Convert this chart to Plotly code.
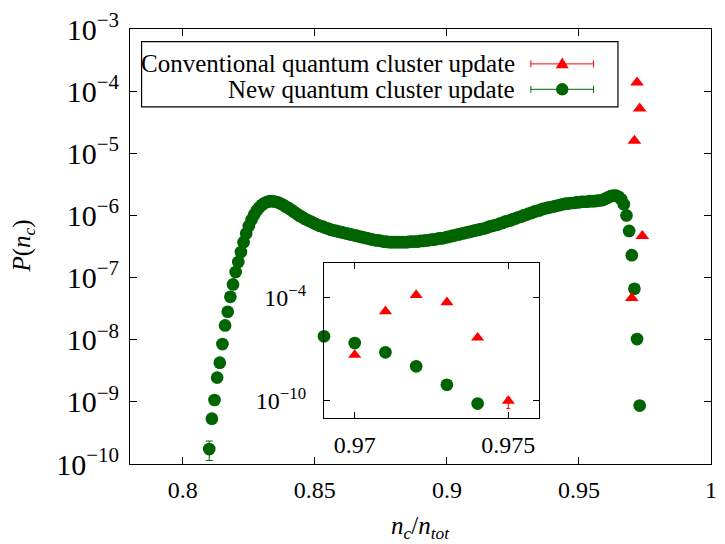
import plotly.graph_objects as go

# ---------------- data ----------------
green_x = [
    0.810, 0.811, 0.812, 0.813, 0.814, 0.815, 0.816, 0.817, 0.818, 0.819,
    0.820, 0.821, 0.822, 0.823, 0.824, 0.825, 0.826, 0.827, 0.828, 0.829,
    0.830, 0.831, 0.832, 0.833, 0.834, 0.835, 0.836, 0.837, 0.838, 0.839,
    0.840, 0.841, 0.842, 0.843, 0.844, 0.845, 0.846, 0.847, 0.848, 0.849,
    0.850, 0.851, 0.852, 0.853, 0.854, 0.855, 0.856, 0.857, 0.858, 0.859,
    0.860, 0.861, 0.862, 0.863, 0.864, 0.865, 0.866, 0.867, 0.868, 0.869,
    0.870, 0.871, 0.872, 0.873, 0.874, 0.875, 0.876, 0.877, 0.878, 0.879,
    0.880, 0.881, 0.882, 0.883, 0.884, 0.885, 0.886, 0.887, 0.888, 0.889,
    0.890, 0.891, 0.892, 0.893, 0.894, 0.895, 0.896, 0.897, 0.898, 0.899,
    0.900, 0.901, 0.902, 0.903, 0.904, 0.905, 0.906, 0.907, 0.908, 0.909,
    0.910, 0.911, 0.912, 0.913, 0.914, 0.915, 0.916, 0.917, 0.918, 0.919,
    0.920, 0.921, 0.922, 0.923, 0.924, 0.925, 0.926, 0.927, 0.928, 0.929,
    0.930, 0.931, 0.932, 0.933, 0.934, 0.935, 0.936, 0.937, 0.938, 0.939,
    0.940, 0.941, 0.942, 0.943, 0.944, 0.945, 0.946, 0.947, 0.948, 0.949,
    0.950, 0.951, 0.952, 0.953, 0.954, 0.955, 0.956, 0.957, 0.958, 0.959,
    0.960, 0.961, 0.962, 0.963, 0.964, 0.965, 0.966, 0.967, 0.968, 0.969,
    0.970, 0.971, 0.972, 0.973, 0.974,
]
# log10 of P(n_c) for the new update
green_log10_p = [
    -9.76, -9.27, -8.97, -8.61, -8.37, -8.07, -7.77, -7.55, -7.31, -7.11,
    -6.91, -6.75, -6.59, -6.43, -6.29, -6.17, -6.07, -5.99, -5.92, -5.87,
    -5.83, -5.80, -5.78, -5.77, -5.77, -5.78, -5.79, -5.81, -5.83, -5.86,
    -5.88, -5.91, -5.94, -5.97, -6.00, -6.02, -6.05, -6.07, -6.09, -6.11,
    -6.13, -6.15, -6.17, -6.18, -6.20, -6.21, -6.23, -6.24, -6.25, -6.26,
    -6.27, -6.28, -6.29, -6.30, -6.31, -6.32, -6.33, -6.34, -6.35, -6.36,
    -6.37, -6.38, -6.39, -6.40, -6.40, -6.41, -6.42, -6.42, -6.43, -6.43,
    -6.43, -6.43, -6.43, -6.43, -6.43, -6.43, -6.42, -6.42, -6.42, -6.42,
    -6.41, -6.41, -6.40, -6.40, -6.39, -6.39, -6.38, -6.37, -6.37, -6.36,
    -6.35, -6.34, -6.33, -6.32, -6.31, -6.30, -6.29, -6.28, -6.27, -6.26,
    -6.25, -6.24, -6.23, -6.22, -6.21, -6.20, -6.18, -6.17, -6.16, -6.15,
    -6.13, -6.12, -6.10, -6.09, -6.08, -6.06, -6.05, -6.03, -6.02, -6.00,
    -5.99, -5.97, -5.96, -5.94, -5.93, -5.92, -5.90, -5.89, -5.88, -5.87,
    -5.86, -5.85, -5.84, -5.83, -5.82, -5.81, -5.81, -5.80, -5.80, -5.79,
    -5.79, -5.78, -5.78, -5.78, -5.77, -5.77, -5.77, -5.76, -5.76, -5.75,
    -5.73, -5.71, -5.69, -5.68, -5.68, -5.70, -5.74, -5.82, -6.00, -6.25,
    -6.64, -7.18, -7.99, -9.06, -10.15,
]
green_err_at_x = [0.810]
green_err_val = [0.6e-10]

red_x = [0.970, 0.971, 0.972, 0.973, 0.974, 0.975]
red_log10_p = [-7.33, -4.80, -3.86, -4.28, -6.33, -10.0]
red_err_at_x = [0.975]
red_err_val = [0.63e-10]

series_names = ["Conventional quantum cluster update", "New quantum cluster update"]

main_xticks = [0.8, 0.85, 0.9, 0.95, 1.0]
main_xticktext = ["0.8", "0.85", "0.9", "0.95", "1"]
inset_xticks = [0.97, 0.975]
inset_xticktext = ["0.97", "0.975"]
inset_yticks = [1e-4, 1e-10]
inset_yticktext = ["10<sup>\u22124</sup>", "10<sup>\u221210</sup>"]

MAIN_X_RANGE = [0.78, 1.0]
MAIN_Y_RANGE = [-10, -3]
INSET_X_RANGE = [0.969, 0.976]
INSET_Y_RANGE = [-11, -2]

# ---------------- build ----------------
GREEN = "#006400"
RED = "#ff0000"
FONT = "Liberation Serif, Times New Roman, serif"

green_p = [10 ** v for v in green_log10_p]
red_p = [10 ** v for v in red_log10_p]
green_err = [green_err_val[green_err_at_x.index(x)] if x in green_err_at_x else None for x in green_x]
red_err = [red_err_val[red_err_at_x.index(x)] if x in red_err_at_x else None for x in red_x]


def subset(xs, ps, es, xr=None, ymin=None):
    ox, op, oe = [], [], []
    for x, p, e in zip(xs, ps, es):
        if xr is not None and not (xr[0] - 1e-9 <= x <= xr[1] + 1e-9):
            continue
        if ymin is not None and p <= ymin * 1.001:
            continue
        ox.append(x); op.append(p); oe.append(e)
    return ox, op, oe


fig = go.Figure()

# main plot
gx, gp, ge = subset(green_x, green_p, green_err, ymin=10 ** MAIN_Y_RANGE[0])
rx, rp, re_ = subset(red_x, red_p, red_err, ymin=10 ** MAIN_Y_RANGE[0])
fig.add_trace(go.Scatter(
    x=gx, y=gp, mode="markers", name=series_names[1], showlegend=False,
    marker=dict(symbol="circle", size=12.7, color=GREEN, line=dict(width=0)),
    error_y=dict(type="data", array=ge, visible=True, color=GREEN, thickness=1, width=3.5),
    xaxis="x", yaxis="y", cliponaxis=False))
fig.add_trace(go.Scatter(
    x=rx, y=rp, mode="markers", name=series_names[0], showlegend=False,
    marker=dict(symbol="triangle-up", size=12, color=RED, line=dict(width=0)),
    error_y=dict(type="data", array=re_, visible=True, color=RED, thickness=1, width=3.5),
    xaxis="x", yaxis="y", cliponaxis=False))

# inset
gx2, gp2, ge2 = subset(green_x, green_p, green_err, xr=INSET_X_RANGE)
rx2, rp2, re2 = subset(red_x, red_p, red_err, xr=INSET_X_RANGE)
fig.add_trace(go.Scatter(
    x=gx2, y=gp2, mode="markers", showlegend=False,
    marker=dict(symbol="circle", size=12.7, color=GREEN, line=dict(width=0)),
    error_y=dict(type="data", array=ge2, visible=True, color=GREEN, thickness=1, width=3.5),
    xaxis="x2", yaxis="y2", cliponaxis=False))
fig.add_trace(go.Scatter(
    x=rx2, y=rp2, mode="markers", showlegend=False,
    marker=dict(symbol="triangle-up", size=11.5, color=RED, line=dict(width=0)),
    error_y=dict(type="data", array=re2, visible=True, color=RED, thickness=1, width=2),
    xaxis="x2", yaxis="y2", cliponaxis=False))

# pixel geometry of the main frame
L, R, T, B = 130, 717, 24, 464
W, H = R - L, B - T


def px(x):
    return (x - L) / W


def py(y):
    return (B - y) / H


axis_common = dict(showline=True, linecolor="black", linewidth=1.3, mirror="ticks",
                   ticks="inside", tickcolor="black", tickwidth=1, showgrid=False,
                   zeroline=False, tickfont=dict(family=FONT, size=24, color="black"))

fig.update_layout(
    width=725, height=544,
    margin=dict(l=L, r=725 - R, t=T, b=544 - B),
    paper_bgcolor="white", plot_bgcolor="white",
    showlegend=False,
    font=dict(family=FONT, size=24, color="black"),
    xaxis=dict(range=MAIN_X_RANGE, tickmode="array", tickvals=main_xticks, ticktext=main_xticktext,
               ticklen=7, ticklabelstandoff=4, **axis_common),
    yaxis=dict(type="log", range=MAIN_Y_RANGE, dtick=1, exponentformat="power",
               ticklen=7, ticklabelstandoff=5, **axis_common),
    xaxis2=dict(domain=[px(326), px(543.3)], anchor="y2", range=INSET_X_RANGE,
                tickmode="array", tickvals=inset_xticks, ticktext=inset_xticktext,
                ticklen=6, ticklabelstandoff=5, **axis_common),
    yaxis2=dict(domain=[py(417.7), py(260.7)], anchor="x2", type="log", range=INSET_Y_RANGE,
                tickmode="array", tickvals=inset_yticks, ticktext=inset_yticktext,
                ticklen=6, ticklabelstandoff=12, **axis_common),
)

# axis titles
fig.add_annotation(xref="paper", yref="paper", x=px(22), y=0.5, xanchor="center", yanchor="middle",
                   text="<i>P</i>(<i>n</i><sub><i>c</i></sub>)", textangle=-90, showarrow=False,
                   font=dict(family=FONT, size=25, color="black"))
fig.add_annotation(xref="paper", yref="paper", x=0.5, y=py(528), xanchor="center", yanchor="middle",
                   text="<i>n</i><sub><i>c</i></sub>/<i>n</i><sub><i>tot</i></sub>", showarrow=False,
                   font=dict(family=FONT, size=25, color="black"))

# custom gnuplot-style key
fig.add_shape(type="rect", xref="paper", yref="paper", x0=px(141.7), x1=px(623), y0=py(102.7), y1=py(36.7),
              line=dict(color="black", width=1.2), fillcolor="rgba(0,0,0,0)")
rows = [(59.3, RED, "triangle"), (85.0, GREEN, "circle")]
for (yrow, col, sym), name in zip(rows, series_names):
    fig.add_annotation(xref="paper", yref="paper", x=px(520.7), y=py(yrow), xanchor="right", yanchor="middle",
                       text=name, showarrow=False, font=dict(family=FONT, size=25, color="black"))
    fig.add_shape(type="line", xref="paper", yref="paper", x0=px(535), x1=px(598.3), y0=py(yrow), y1=py(yrow),
                  line=dict(color=col, width=1))
    for xe in (535, 598.3):
        fig.add_shape(type="line", xref="paper", yref="paper", x0=px(xe), x1=px(xe),
                      y0=py(yrow - 3.5), y1=py(yrow + 3.5), line=dict(color=col, width=1))
    xc = 566.7
    if sym == "circle":
        r = 6.3
        fig.add_shape(type="circle", xref="paper", yref="paper", x0=px(xc - r), x1=px(xc + r),
                      y0=py(yrow + r), y1=py(yrow - r), fillcolor=col, line=dict(width=0))
    else:
        hw, h = 6.6, 11.0
        path = (f"M {px(xc - hw)},{py(yrow + h / 2 - 1)} L {px(xc + hw)},{py(yrow + h / 2 - 1)} "
                f"L {px(xc)},{py(yrow - h / 2 - 1)} Z")
        fig.add_shape(type="path", xref="paper", yref="paper", path=path, fillcolor=col, line=dict(width=0))

fig.write_html("out.html")
